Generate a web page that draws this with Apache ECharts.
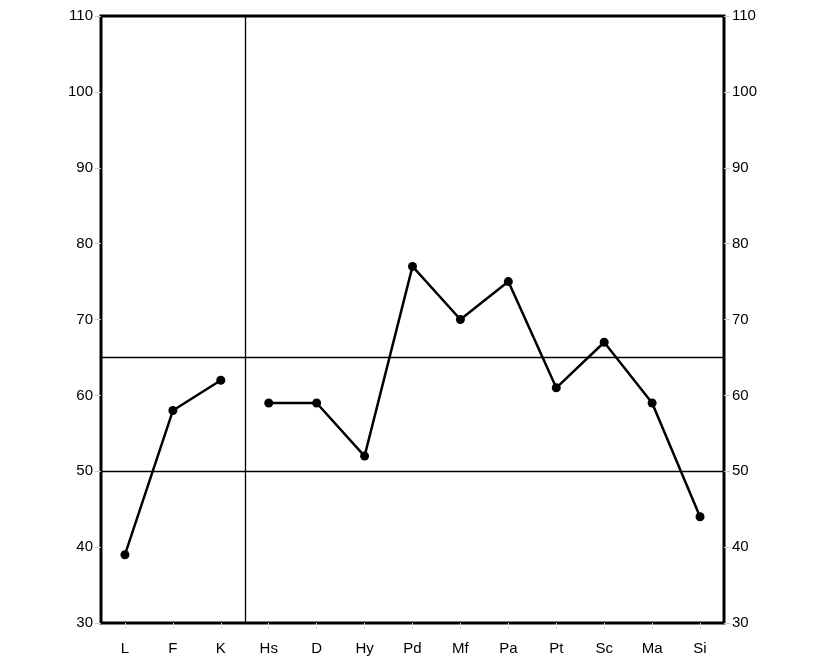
<!DOCTYPE html>
<html><head><meta charset="utf-8">
<script src="https://cdn.jsdelivr.net/npm/echarts@6/dist/echarts.min.js"></script>
<style>html,body{margin:0;padding:0;background:#fff}#c{width:819px;height:672px}</style>
</head><body><div id="c"></div>
<script>
const categories = ['L','F','K','Hs','D','Hy','Pd','Mf','Pa','Pt','Sc','Ma','Si'];
const validityScores = [39, 58, 62, null, null, null, null, null, null, null, null, null, null];
const clinicalScores = [null, null, null, 59, 59, 52, 77, 70, 75, 61, 67, 59, 44];
const yTicks = {min: 30, max: 110, interval: 10};
const refLines = [65, 50];
const dividerPos = 2.5;

const chart = echarts.init(document.getElementById('c'));
const font = {fontFamily: 'Liberation Sans, Arial, sans-serif', fontSize: 15, color: '#000'};
const yAxisBase = {
  type: 'value', min: yTicks.min, max: yTicks.max, interval: yTicks.interval,
  axisLine: {show: false, onZero: false}, splitLine: {show: false},
  axisTick: {show: true, length: 6, lineStyle: {color: '#ccc'}},
  axisLabel: Object.assign({margin: 8}, font)
};
const lineStyle = {color: '#000', width: 2.5};
chart.setOption({
  animation: false,
  grid: {left: 101, right: 95, top: 16, bottom: 49, show: true, borderColor: '#000', borderWidth: 3, backgroundColor: '#fff'},
  xAxis: [{
    type: 'category', data: categories, boundaryGap: true,
    axisLine: {show: false, onZero: false}, axisTick: {show: true, alignWithLabel: true, length: 6, lineStyle: {color: '#ddd'}},
    axisLabel: Object.assign({margin: 18}, font)
  }, {
    type: 'value', min: -0.5, max: categories.length - 0.5, show: false, position: 'bottom',
    axisLine: {onZero: false}
  }],
  yAxis: [
    Object.assign({position: 'left'}, yAxisBase),
    Object.assign({position: 'right'}, yAxisBase)
  ],
  series: [
    {
      type: 'line', data: [], xAxisIndex: 1, silent: true,
      markLine: {
        silent: true, symbol: 'none', label: {show: false}, animation: false,
        lineStyle: {color: '#000', width: 1.3, type: 'solid'},
        data: refLines.map(v => ({yAxis: v})).concat([{xAxis: dividerPos}])
      }
    },
    {
      type: 'line', data: validityScores, connectNulls: false,
      symbol: 'circle', symbolSize: 9, z: 3,
      lineStyle: lineStyle, itemStyle: {color: '#000'}
    },
    {
      type: 'line', data: clinicalScores, connectNulls: false,
      symbol: 'circle', symbolSize: 9, z: 3,
      lineStyle: lineStyle, itemStyle: {color: '#000'}
    }
  ]
});
</script></body></html>
